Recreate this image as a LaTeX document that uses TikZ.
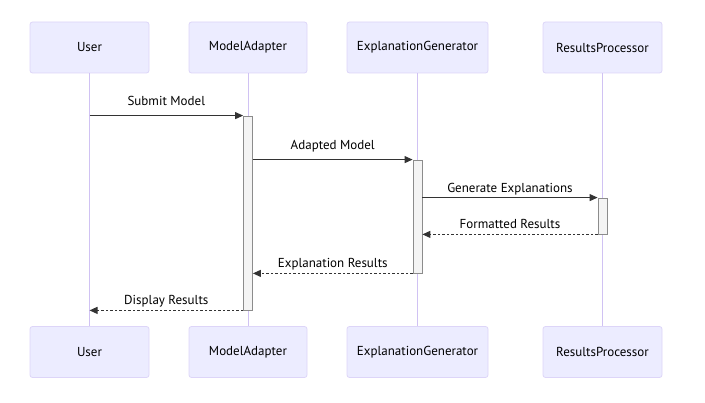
\documentclass[tikz,border=0pt]{standalone}
\usepackage{fontspec}
\setmainfont{PT Sans}
\usetikzlibrary{arrows.meta}
\definecolor{actfill}{HTML}{ECECFF}
\definecolor{actdraw}{HTML}{DDD5F8}
\definecolor{life}{HTML}{D0C2F3}
\definecolor{msg}{HTML}{333333}
\definecolor{actv}{HTML}{F4F4F4}
\definecolor{actvd}{HTML}{8C8C8C}
\begin{document}
\begin{tikzpicture}[x=1pt,y=-1pt,
  actor/.style={draw=actdraw, fill=actfill, rounded corners=2.5pt, minimum height=51pt, inner sep=0pt, line width=0.8pt, font=\fontsize{13}{15}\selectfont, text=black},
  lifeline/.style={draw=life, line width=1pt},
  actbox/.style={draw=actvd, fill=actv, minimum width=9pt, inner sep=0pt, line width=0.8pt},
  msgsolid/.style={draw=msg, line width=1pt, -{Triangle[length=8pt,width=7pt]}},
  msgdash/.style={msgsolid, dash pattern=on 2.5pt off 2pt},
  lbl/.style={midway, anchor=base, yshift=10pt, font=\fontsize{13}{15}\selectfont, text=black, inner sep=0pt},
  lbllow/.style={lbl, yshift=-4.5pt}
]
\useasboundingbox (0,0) rectangle (705,403);
% top actors
\node[actor, minimum width=119pt] (ut) at (89.5,47.5) {User};
\node[actor, minimum width=118pt] (mt) at (248,47.5) {ModelAdapter};
\node[actor, minimum width=141pt] (et) at (417.5,47.5) {ExplanationGenerator};
\node[actor, minimum width=119pt] (rt) at (602.5,47.5) {ResultsProcessor};
% bottom actors
\node[actor, minimum width=119pt] (ub) at (89.5,352) {User};
\node[actor, minimum width=118pt] (mb) at (248,352) {ModelAdapter};
\node[actor, minimum width=141pt] (eb) at (417.5,352) {ExplanationGenerator};
\node[actor, minimum width=119pt] (rb) at (602.5,352) {ResultsProcessor};
% lifelines
\draw[lifeline] (ut.south) -- (ub.north);
\draw[lifeline] (mt.south) -- (mb.north);
\draw[lifeline] (et.south) -- (eb.north);
\draw[lifeline] (rt.south) -- (rb.north);
% activations
\node[actbox, minimum height=194pt] (a1) at (248,213) {};
\node[actbox, minimum height=113pt] (a2) at (417.5,216.5) {};
\node[actbox, minimum height=36pt] (a3) at (602.5,216) {};
% messages
\draw[msgsolid] (ut.south |- a1.north) -- (a1.north west) node[lbl] {Submit Model};
\draw[msgsolid] (a1.east |- a2.north) -- (a2.north west) node[lbl] {Adapted Model};
\draw[msgsolid] (a2.east |- a3.north) -- (a3.north west) node[lbllow] {Generate Explanations};
\draw[msgdash] (a3.south west) -- (a2.east |- a3.south) node[lbllow] {Formatted Results};
\draw[msgdash] (a2.south west) -- (a1.east |- a2.south) node[lbllow] {Explanation Results};
\draw[msgdash] (a1.south west) -- (ut.south |- a1.south) node[lbllow] {Display Results};
\end{tikzpicture}
\end{document}
